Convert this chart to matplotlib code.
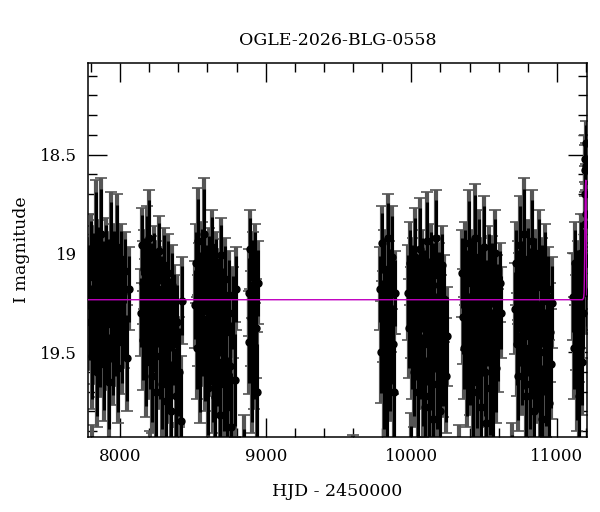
import numpy as np
import matplotlib
matplotlib.use("Agg")
import matplotlib.pyplot as plt
from matplotlib.ticker import MultipleLocator

plt.rcParams['font.family'] = ['DejaVu Serif']

title = "OGLE-2026-BLG-0558"

# observing seasons: HJD - 2450000, I magnitude, error
t1 = [7788, 7794, 7801, 7805, 7812, 7819, 7823, 7830, 7834, 7841, 7846, 7850, 7857, 7863, 7868, 7872, 7879, 7886, 7890, 7895, 7902, 7908, 7913, 7917, 7924, 7931, 7935, 7940, 7946, 7953, 7958, 7962, 7969, 7976, 7980, 7985, 7992, 7999, 8004, 8010, 8018, 8027, 8034, 8046, 8058]
m1 = [19.12, 19.35, 18.98, 19.52, 19.21, 19.05, 19.41, 19.28, 18.93, 19.60, 19.17, 19.33, 19.02, 19.47, 19.25, 18.90, 19.38, 19.10, 19.56, 19.22, 19.00, 19.44, 19.30, 19.08, 19.65, 19.19, 18.95, 19.36, 19.27, 19.50, 19.04, 19.24, 19.42, 18.97, 19.31, 19.58, 19.14, 19.26, 19.03, 19.45, 19.20, 19.34, 19.09, 19.53, 19.18]
e1 = [0.20, 0.24, 0.18, 0.27, 0.21, 0.19, 0.25, 0.22, 0.30, 0.28, 0.20, 0.23, 0.19, 0.26, 0.22, 0.28, 0.24, 0.20, 0.29, 0.21, 0.18, 0.25, 0.23, 0.19, 0.30, 0.21, 0.26, 0.24, 0.22, 0.27, 0.19, 0.21, 0.25, 0.27, 0.23, 0.28, 0.20, 0.22, 0.18, 0.26, 0.21, 0.24, 0.20, 0.27, 0.21]

t2 = [8146, 8151, 8155, 8160, 8166, 8173, 8177, 8182, 8188, 8195, 8200, 8204, 8211, 8217, 8222, 8227, 8233, 8240, 8244, 8249, 8256, 8262, 8267, 8271, 8278, 8285, 8289, 8294, 8300, 8307, 8312, 8317, 8324, 8331, 8337, 8343, 8351, 8359, 8366, 8373, 8383, 8394, 8405, 8416, 8428]
m2 = [19.30, 18.96, 19.15, 19.44, 19.08, 19.25, 19.55, 19.02, 19.36, 19.19, 18.92, 19.48, 19.27, 19.11, 19.62, 19.33, 19.05, 19.40, 19.22, 19.70, 19.14, 19.29, 18.99, 19.52, 19.37, 19.18, 19.66, 19.26, 19.06, 19.45, 19.75, 19.21, 19.39, 19.10, 19.58, 19.31, 19.80, 19.16, 19.46, 19.28, 19.72, 19.35, 19.60, 19.85, 19.24]
e2 = [0.22, 0.19, 0.21, 0.25, 0.20, 0.22, 0.28, 0.26, 0.24, 0.21, 0.24, 0.26, 0.23, 0.20, 0.29, 0.24, 0.19, 0.25, 0.21, 0.30, 0.20, 0.23, 0.18, 0.27, 0.24, 0.21, 0.29, 0.22, 0.19, 0.26, 0.31, 0.21, 0.25, 0.20, 0.28, 0.23, 0.32, 0.20, 0.26, 0.22, 0.30, 0.24, 0.28, 0.33, 0.22]

t3 = [8517, 8521, 8527, 8534, 8538, 8543, 8549, 8556, 8561, 8565, 8572, 8578, 8583, 8588, 8594, 8601, 8605, 8610, 8617, 8623, 8628, 8632, 8639, 8646, 8650, 8655, 8661, 8668, 8673, 8677, 8684, 8691, 8696, 8701, 8708, 8716, 8722, 8728, 8737, 8746, 8754, 8762, 8773, 8787, 8799]
m3 = [19.26, 19.05, 19.48, 18.94, 19.34, 19.16, 19.58, 19.22, 19.03, 19.42, 19.29, 18.90, 19.53, 19.12, 19.37, 19.20, 19.68, 19.07, 19.31, 19.46, 18.97, 19.24, 19.62, 19.14, 19.39, 19.73, 19.09, 19.28, 19.55, 19.19, 19.82, 19.33, 19.01, 19.47, 19.25, 19.66, 19.13, 19.40, 19.78, 19.21, 19.57, 19.88, 19.30, 19.64, 19.18]
e3 = [0.22, 0.20, 0.26, 0.27, 0.23, 0.21, 0.28, 0.22, 0.19, 0.25, 0.23, 0.28, 0.27, 0.20, 0.24, 0.22, 0.30, 0.20, 0.23, 0.26, 0.19, 0.22, 0.29, 0.21, 0.25, 0.31, 0.20, 0.23, 0.28, 0.21, 0.33, 0.24, 0.19, 0.26, 0.22, 0.30, 0.21, 0.25, 0.32, 0.22, 0.28, 0.34, 0.23, 0.29, 0.21]

t4 = [8882, 8888, 8893, 8899, 8905, 8910, 8916, 8921, 8927, 8932, 8938, 8944]
m4 = [19.20, 19.45, 18.98, 19.33, 19.62, 19.10, 19.27, 19.52, 19.05, 19.38, 19.70, 19.15]
e4 = [0.22, 0.26, 0.20, 0.24, 0.29, 0.21, 0.23, 0.27, 0.20, 0.25, 0.30, 0.21]

t5 = [9787, 9792, 9798, 9803, 9809, 9815, 9820, 9826, 9831, 9837, 9843, 9848, 9854, 9860, 9866, 9872, 9879, 9886]
m5 = [19.18, 19.50, 18.95, 19.32, 19.66, 19.08, 19.40, 19.24, 19.75, 18.92, 19.36, 19.14, 19.58, 19.28, 19.02, 19.46, 19.70, 19.20]
e5 = [0.21, 0.26, 0.19, 0.23, 0.29, 0.20, 0.25, 0.22, 0.30, 0.22, 0.24, 0.20, 0.27, 0.22, 0.26, 0.25, 0.29, 0.21]

t6 = [9978, 9984, 9990, 9997, 10003, 10010, 10016, 10022, 10028, 10034, 10040, 10045, 10051, 10057, 10062, 10068, 10073, 10079, 10085, 10090, 10096, 10101, 10107, 10113, 10118, 10124, 10129, 10135, 10141, 10146, 10152, 10157, 10163, 10169, 10174, 10180, 10186, 10192, 10198, 10204, 10211, 10218, 10226, 10236, 10248]
m6 = [19.20, 19.38, 19.05, 19.30, 19.48, 19.12, 19.60, 19.25, 19.02, 19.44, 19.18, 19.70, 19.33, 18.98, 19.52, 19.22, 19.08, 19.64, 19.36, 19.15, 19.78, 19.28, 18.94, 19.46, 19.19, 19.72, 19.32, 19.05, 19.57, 19.24, 19.84, 19.11, 19.40, 18.92, 19.66, 19.27, 19.50, 19.16, 19.80, 19.35, 19.06, 19.55, 19.23, 19.62, 19.42]
e6 = [0.24, 0.25, 0.21, 0.23, 0.26, 0.20, 0.28, 0.22, 0.25, 0.25, 0.21, 0.30, 0.24, 0.26, 0.27, 0.22, 0.20, 0.29, 0.24, 0.21, 0.32, 0.23, 0.25, 0.26, 0.21, 0.31, 0.24, 0.20, 0.28, 0.22, 0.34, 0.20, 0.25, 0.24, 0.29, 0.22, 0.27, 0.21, 0.33, 0.24, 0.20, 0.28, 0.22, 0.29, 0.25]

t7 = [10348, 10354, 10361, 10367, 10373, 10379, 10385, 10390, 10396, 10402, 10407, 10413, 10419, 10424, 10430, 10436, 10441, 10447, 10453, 10458, 10464, 10469, 10475, 10481, 10486, 10492, 10497, 10503, 10509, 10514, 10520, 10526, 10531, 10537, 10543, 10549, 10555, 10561, 10567, 10574, 10581, 10589, 10598, 10608, 10619]
m7 = [19.10, 19.32, 19.48, 19.05, 19.26, 19.60, 19.15, 19.40, 18.95, 19.55, 19.22, 19.36, 19.08, 19.70, 19.28, 18.92, 19.45, 19.18, 19.65, 19.31, 19.02, 19.52, 19.24, 19.78, 19.13, 19.42, 18.97, 19.60, 19.29, 19.86, 19.20, 19.38, 19.06, 19.68, 19.25, 19.50, 19.11, 19.76, 19.34, 19.00, 19.58, 19.22, 19.44, 19.15, 19.30]
e7 = [0.22, 0.24, 0.26, 0.21, 0.23, 0.28, 0.21, 0.25, 0.27, 0.27, 0.22, 0.24, 0.20, 0.30, 0.22, 0.27, 0.26, 0.21, 0.29, 0.23, 0.24, 0.27, 0.22, 0.32, 0.21, 0.25, 0.26, 0.28, 0.23, 0.34, 0.21, 0.24, 0.20, 0.30, 0.22, 0.27, 0.20, 0.31, 0.24, 0.22, 0.28, 0.21, 0.26, 0.20, 0.23]

t8 = [10712, 10718, 10723, 10729, 10734, 10740, 10745, 10751, 10756, 10762, 10767, 10773, 10778, 10784, 10789, 10795, 10800, 10806, 10811, 10817, 10822, 10828, 10833, 10839, 10844, 10850, 10855, 10861, 10866, 10872, 10877, 10883, 10888, 10894, 10899, 10905, 10911, 10917, 10923, 10929, 10936, 10943, 10951, 10960, 10969]
m8 = [19.28, 19.05, 19.46, 19.15, 19.62, 19.22, 18.96, 19.38, 19.10, 19.55, 19.30, 18.90, 19.48, 19.19, 19.72, 19.26, 19.03, 19.42, 19.14, 19.66, 19.33, 18.94, 19.52, 19.21, 19.80, 19.08, 19.36, 19.58, 19.17, 19.44, 19.00, 19.70, 19.29, 19.12, 19.84, 19.24, 19.50, 19.06, 19.64, 19.32, 19.18, 19.76, 19.40, 19.56, 19.25]
e8 = [0.23, 0.21, 0.26, 0.21, 0.28, 0.22, 0.25, 0.24, 0.20, 0.27, 0.23, 0.28, 0.26, 0.21, 0.30, 0.22, 0.20, 0.25, 0.21, 0.29, 0.23, 0.26, 0.27, 0.22, 0.33, 0.20, 0.24, 0.28, 0.21, 0.25, 0.22, 0.31, 0.23, 0.20, 0.34, 0.22, 0.27, 0.21, 0.29, 0.24, 0.21, 0.32, 0.25, 0.28, 0.23]

t9 = [11112, 11118, 11124, 11130, 11136, 11142, 11148, 11154, 11160, 11166, 11172, 11177, 11182, 11186, 11189, 11191, 11193, 11195, 11197, 11199, 11201, 11203, 11205]
m9 = [19.22, 19.48, 19.05, 19.35, 19.62, 19.15, 19.40, 19.72, 19.26, 19.00, 19.55, 19.30, 19.18, 19.02, 18.85, 18.70, 18.58, 18.52, 18.44, 18.56, 18.80, 19.05, 19.20]
e9 = [0.22, 0.26, 0.21, 0.24, 0.28, 0.21, 0.25, 0.31, 0.22, 0.20, 0.27, 0.23, 0.21, 0.18, 0.16, 0.14, 0.13, 0.12, 0.11, 0.12, 0.15, 0.18, 0.21]

# faint points just below the plot whose error bars poke above the bottom axis
t_faint = [7805, 8206, 8405, 8850, 9600, 10000, 10330, 10690]
m_faint = [20.15, 20.20, 20.18, 20.16, 20.20, 20.14, 20.18, 20.16]
e_faint = [0.28, 0.30, 0.31, 0.34, 0.28, 0.33, 0.31, 0.30]

# point-lens model curve
t_model = [7780, 11176, 11183, 11186, 11188, 11190, 11192, 11194, 11196, 11198, 11200, 11202, 11204, 11206]
m_model = [19.235, 19.235, 19.225, 19.20, 19.13, 19.00, 18.85, 18.72, 18.65, 18.63, 18.70, 18.90, 19.12, 19.21]

t = t1 + t2 + t3 + t4 + t5 + t6 + t7 + t8 + t9 + t_faint
m = m1 + m2 + m3 + m4 + m5 + m6 + m7 + m8 + m9 + m_faint
e = e1 + e2 + e3 + e4 + e5 + e6 + e7 + e8 + e9 + e_faint

fig = plt.figure(figsize=(6, 5.12), dpi=100)
ax = fig.add_axes([0.1467, 0.1465, 0.8316, 0.731])

ax.errorbar(t, m, yerr=e, fmt='none', ecolor='#555555',
            elinewidth=3.0, capsize=4, capthick=1.2, zorder=2)
ax.errorbar(t, m, yerr=[[x * 0.8 for x in e], [x * 0.8 for x in e]], fmt='o',
            color='black', ms=5, ecolor='black', elinewidth=2.2, zorder=3)
ax.plot(t_model, m_model, color='#c000c0', lw=1.0, zorder=4)

ax.set_xlim(7780, 11206)
ax.set_ylim(19.93, 18.035)

ax.xaxis.set_major_locator(MultipleLocator(1000))
ax.xaxis.set_minor_locator(MultipleLocator(200))
ax.yaxis.set_major_locator(MultipleLocator(0.5))
ax.yaxis.set_minor_locator(MultipleLocator(0.1))
ax.set_yticks([18.5, 19, 19.5])
ax.set_yticklabels(['18.5', '19', '19.5'])

ax.tick_params(which='both', direction='in', top=True, right=True,
               labelsize=12, pad=8, width=1)
ax.tick_params(which='major', length=13.5)
ax.tick_params(which='minor', length=6.5)
for s in ax.spines.values():
    s.set_linewidth(1.1)

ax.set_title(title, fontsize=12.5, pad=13)
ax.set_xlabel("HJD - 2450000", fontsize=12.5, labelpad=13)
ax.set_ylabel("I magnitude", fontsize=12.5, labelpad=7)

fig.savefig("out.png", dpi=100)
